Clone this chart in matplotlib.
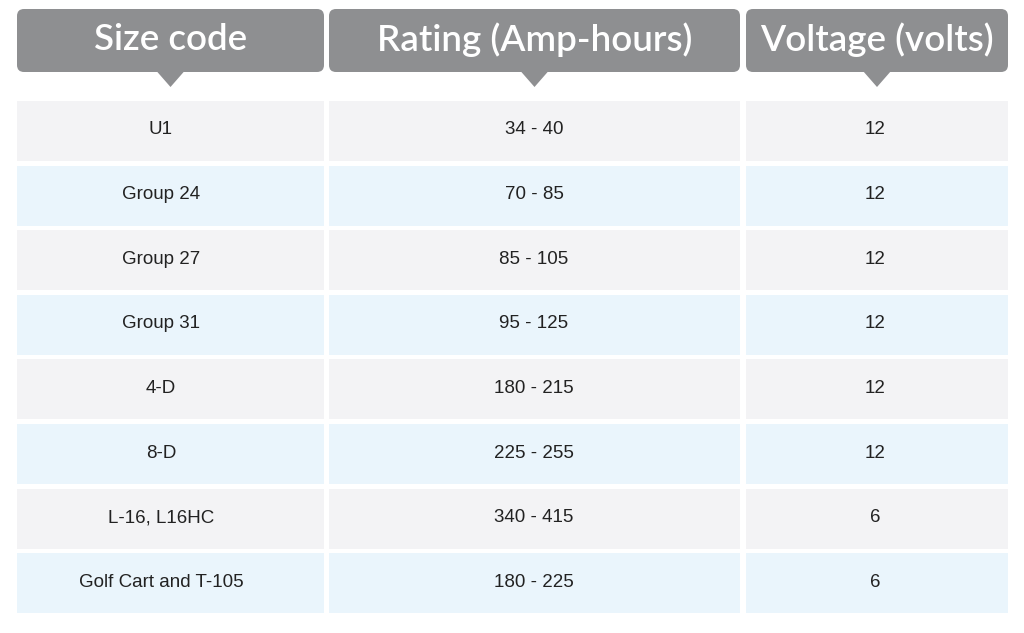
import matplotlib
matplotlib.use("Agg")
import matplotlib.pyplot as plt
from matplotlib.patches import FancyBboxPatch, Rectangle, Polygon

headers = ["Size code", "Rating (Amp-hours)", "Voltage (volts)"]
size_codes = ["U1", "Group 24", "Group 27", "Group 31", "4-D", "8-D", "L-16, L16HC", "Golf Cart and T-105"]
ratings = ["34 - 40", "70 - 85", "85 - 105", "95 - 125", "180 - 215", "225 - 255", "340 - 415", "180 - 225"]
voltages = ["12", "12", "12", "12", "12", "12", "6", "6"]

W, H = 1024, 633
fig = plt.figure(figsize=(W/100, H/100), dpi=100)
ax = fig.add_axes([0, 0, 1, 1])
ax.set_xlim(0, W); ax.set_ylim(H, 0); ax.axis("off")

cols = [(17, 324), (329, 740), (746, 1008)]
text_cx = [161, 534, 875]
hdr_col = "#8e8f91"
for (x0, x1), cxt, h in zip(cols, text_cx, headers):
    ax.add_patch(FancyBboxPatch((x0+4, 13), x1-x0-8, 55, boxstyle="round,pad=4,rounding_size=7",
                                fc=hdr_col, ec="none"))
    cx = (x0+x1)/2
    ax.add_patch(Polygon([(cx-14, 71), (cx+14, 71), (cx, 87)], fc=hdr_col, ec="none"))
    ax.text(cx, 40, h, ha="center", va="center", color="white", fontsize=26.5,
            fontweight="semibold", family=["Lato", "DejaVu Sans"])

rows = list(zip(size_codes, ratings, voltages))
for i, row in enumerate(rows):
    y0 = 101 + i*64.6
    fc = "#f3f3f5" if i % 2 == 0 else "#eaf5fc"
    for (x0, x1), cxt, val in zip(cols, text_cx, row):
        ax.add_patch(Rectangle((x0, y0), x1-x0, 60, fc=fc, ec="none"))
        ax.text(cxt, y0+29, val, ha="center", va="center", color="#222222",
                fontsize=13.5, family=["Liberation Sans", "DejaVu Sans"])

fig.savefig("out.png", dpi=100, facecolor="white")
